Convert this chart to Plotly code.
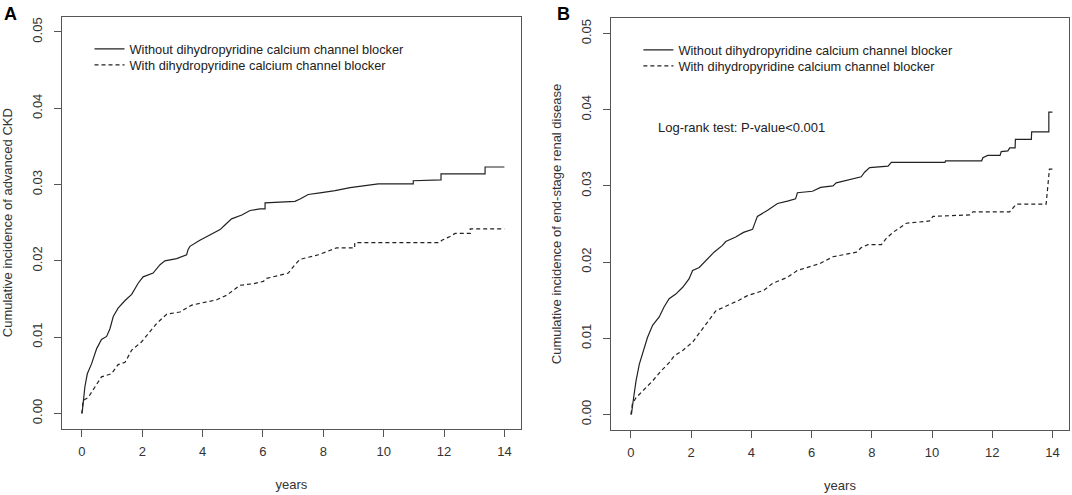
import plotly.graph_objects as go

# repeated years mark the vertical risers of the visible steps.

# Panel A: advanced CKD
a_t_without = [0, 0.02, 0.1, 0.18, 0.32, 0.49, 0.65, 0.82, 0.93, 1.04, 1.2, 1.43, 1.65, 1.87,
               2.03, 2.36, 2.59, 2.75, 3.14, 3.47, 3.52, 3.58, 3.91, 4.24, 4.58, 4.74, 4.96,
               5.3, 5.57, 5.9, 6.07, 6.07, 7.06, 7.23, 7.5, 7.89, 8.39, 8.89, 9.55, 9.82,
               10.98, 10.98, 11.9, 11.9, 13.36, 13.36, 14.0]
a_ci_without = [0, 0.0005, 0.0035, 0.0052, 0.0065, 0.0085, 0.0097, 0.0101, 0.0111, 0.0127,
                0.0138, 0.0148, 0.0156, 0.0171, 0.0179, 0.0184, 0.0195, 0.02, 0.0203, 0.0208,
                0.0215, 0.0219, 0.0227, 0.0234, 0.0241, 0.0247, 0.0255, 0.026, 0.0266, 0.0268,
                0.0268, 0.0276, 0.0278, 0.0281, 0.0287, 0.0289, 0.0292, 0.0296, 0.0299, 0.0301,
                0.0301, 0.0305, 0.0306, 0.0314, 0.0314, 0.0323, 0.0323]
a_t_with = [0, 0.04, 0.21, 0.43, 0.65, 0.98, 1.2, 1.43, 1.65, 1.98, 2.2, 2.48, 2.81, 3.25,
            3.64, 4.13, 4.47, 4.8, 5.24, 5.68, 6.01, 6.12, 6.51, 6.84, 7.06, 7.23, 7.84, 8.44,
            9.04, 9.04, 11.85, 11.93, 12.2, 12.37, 12.87, 12.87, 14.0]
a_ci_with = [0, 0.0017, 0.0021, 0.0035, 0.0048, 0.0052, 0.0064, 0.0067, 0.0083, 0.0094,
             0.0105, 0.0118, 0.013, 0.0133, 0.0142, 0.0146, 0.0149, 0.0155, 0.0168, 0.017,
             0.0173, 0.0177, 0.0181, 0.0184, 0.0195, 0.0202, 0.0208, 0.0217, 0.0217, 0.0224,
             0.0224, 0.0227, 0.0232, 0.0236, 0.0236, 0.0242, 0.0242]

# Panel B: end-stage renal disease
b_t_without = [0, 0.02, 0.09, 0.17, 0.28, 0.42, 0.55, 0.72, 0.94, 1.1, 1.27, 1.49, 1.72, 1.93,
               2.05, 2.27, 2.54, 2.76, 3.04, 3.15, 3.48, 3.74, 4.04, 4.2, 4.54, 4.87, 5.2,
               5.47, 5.53, 6.03, 6.3, 6.71, 6.82, 7.38, 7.65, 7.76, 7.93, 8.54, 8.65, 10.43,
               10.45, 11.65, 11.69, 11.85, 12.26, 12.3, 12.52, 12.58, 12.76, 12.77, 13.3,
               13.31, 13.88, 13.88, 14.0]
b_ci_without = [0, 0.0001, 0.0022, 0.0044, 0.0066, 0.0084, 0.0101, 0.0117, 0.0128, 0.0141,
                0.0152, 0.0158, 0.0167, 0.0178, 0.0189, 0.0193, 0.0204, 0.0213, 0.0222, 0.0227,
                0.0233, 0.0239, 0.0243, 0.026, 0.0268, 0.0277, 0.028, 0.0283, 0.0291, 0.0293,
                0.0298, 0.03, 0.0304, 0.031, 0.0312, 0.0318, 0.0324, 0.0326, 0.0331, 0.0331,
                0.0333, 0.0333, 0.0337, 0.034, 0.034, 0.0345, 0.0346, 0.035, 0.035, 0.0361,
                0.0361, 0.0371, 0.0371, 0.0397, 0.0397]
b_t_with = [0, 0.05, 0.17, 0.44, 0.72, 1.0, 1.27, 1.44, 1.72, 2.05, 2.27, 2.54, 2.82, 3.21,
            3.59, 3.87, 4.42, 4.7, 5.2, 5.53, 6.08, 6.27, 6.71, 7.49, 7.65, 7.87, 8.32, 8.48,
            8.7, 9.15, 9.92, 10.03, 11.25, 11.36, 12.58, 12.8, 13.79, 13.83, 13.9, 14.0]
b_ci_with = [0, 0.0014, 0.0022, 0.0033, 0.0044, 0.0057, 0.0068, 0.0077, 0.0084, 0.0095,
             0.0106, 0.0121, 0.0136, 0.0143, 0.015, 0.0156, 0.0163, 0.0172, 0.018, 0.0189,
             0.0196, 0.0198, 0.0207, 0.0213, 0.0219, 0.0223, 0.0223, 0.0231, 0.0239, 0.0251,
             0.0254, 0.026, 0.0262, 0.0266, 0.0266, 0.0276, 0.0276, 0.0294, 0.0322, 0.0322]

series_names = ["Without dihydropyridine calcium channel blocker",
                "With dihydropyridine calcium channel blocker"]
x_ticks = [0, 2, 4, 6, 8, 10, 12, 14]
y_ticks = [0.0, 0.01, 0.02, 0.03, 0.04, 0.05]
y_tick_text = ["0.00", "0.01", "0.02", "0.03", "0.04", "0.05"]
logrank_text = "Log-rank test: P-value<0.001"

FONT = "Liberation Sans, Arial, sans-serif"
INK = "#222222"
FRAME = "#555555"
TXT = "#333333"

fig = go.Figure()

# one single-entry legend per line so the rows sit as tight as in the original
panels = [
    (a_t_without, a_ci_without, a_t_with, a_ci_with, "x", "y", "legend", "legend2"),
    (b_t_without, b_ci_without, b_t_with, b_ci_with, "x2", "y2", "legend3", "legend4"),
]
for t0, c0, t1, c1, xa, ya, lg0, lg1 in panels:
    fig.add_trace(go.Scatter(x=t0, y=c0, mode="lines",
                             line=dict(color=INK, width=1.2),
                             name=series_names[0], xaxis=xa, yaxis=ya, legend=lg0))
    fig.add_trace(go.Scatter(x=t1, y=c1, mode="lines",
                             line=dict(color=INK, width=1.2, dash="4px,3px"),
                             name=series_names[1], xaxis=xa, yaxis=ya, legend=lg1))

axis_common = dict(showline=True, mirror=True, linecolor=FRAME, linewidth=1.3,
                   ticks="outside", ticklen=7, tickcolor=FRAME, showgrid=False,
                   zeroline=False, tickfont=dict(size=13, color=TXT))
xcommon = dict(axis_common, range=[-0.66, 14.55], tickvals=x_ticks,
               ticklabelstandoff=4,
               title=dict(text="years", font=dict(size=13, color=TXT), standoff=21))
ycommon = dict(axis_common, range=[-0.002, 0.052], tickvals=y_ticks, ticktext=y_tick_text,
               tickangle=-90, ticklabelstandoff=7)

legend_common = dict(font=dict(size=12.8, color=INK, family=FONT),
                     bgcolor="rgba(0,0,0,0)", xanchor="left", yanchor="top",
                     itemwidth=30)

fig.update_layout(
    width=1072, height=495,
    margin=dict(l=0, r=0, t=0, b=0),
    paper_bgcolor="white", plot_bgcolor="white",
    font=dict(family=FONT, color=TXT, size=13),
    xaxis=dict(xcommon, domain=[0.0578, 0.486], anchor="y"),
    yaxis=dict(ycommon, domain=[0.1339, 0.9663], anchor="x",
               title=dict(text="Cumulative incidence of advanced CKD",
                          font=dict(size=13, color=TXT), standoff=14)),
    xaxis2=dict(xcommon, domain=[0.570, 0.9972], anchor="y2"),
    yaxis2=dict(ycommon, domain=[0.1319, 0.963], anchor="x2",
                title=dict(text="Cumulative incidence of end-stage renal disease",
                           font=dict(size=13, color=TXT), standoff=14)),
    legend=dict(legend_common, x=0.0835, y=0.9313),
    legend2=dict(legend_common, x=0.0835, y=0.899),
    legend3=dict(legend_common, x=0.5955, y=0.9293),
    legend4=dict(legend_common, x=0.5955, y=0.897),
    showlegend=True,
    annotations=[
        dict(text="<b>A</b>", xref="paper", yref="paper", x=0.002, y=0.995,
             xanchor="left", yanchor="top", showarrow=False,
             font=dict(size=18, color="black", family=FONT)),
        dict(text="<b>B</b>", xref="paper", yref="paper", x=0.518, y=0.995,
             xanchor="left", yanchor="top", showarrow=False,
             font=dict(size=18, color="black", family=FONT)),
        dict(text=logrank_text, xref="x2", yref="y2", x=0.83, y=0.0377,
             xanchor="left", yanchor="middle", showarrow=False,
             font=dict(size=13, color=INK, family=FONT)),
    ],
)

# the page's default body margin would shift the fixed-size figure
fig.write_html("out.html", config={"displayModeBar": False},
               post_script="document.body.style.margin='0px';")
